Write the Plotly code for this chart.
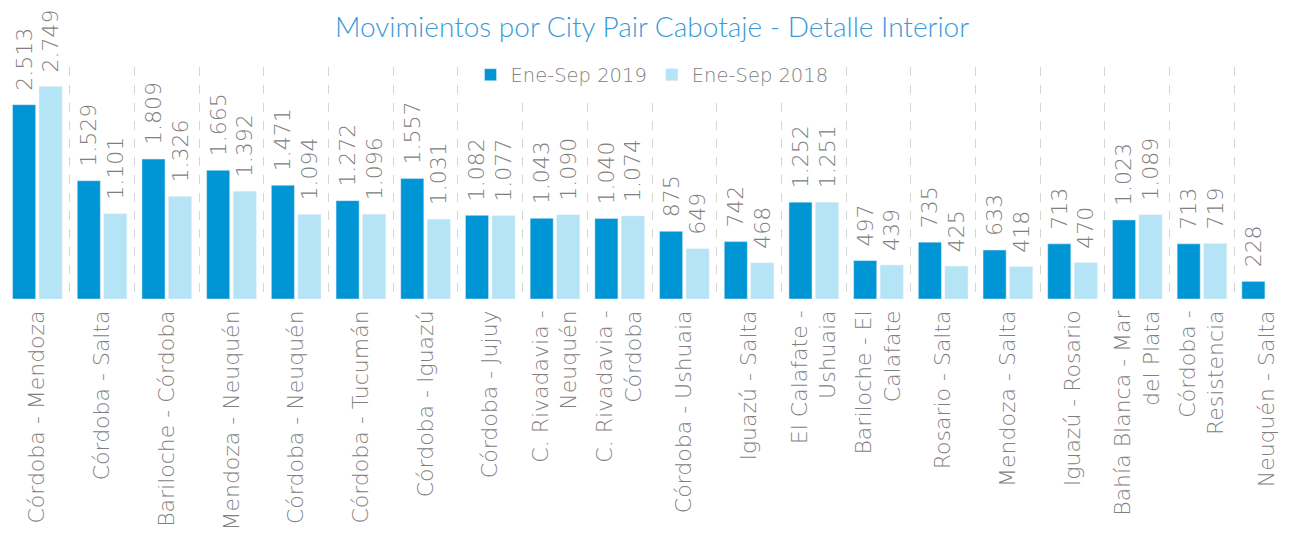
import plotly.graph_objects as go

categories = [
    "Córdoba - Mendoza", "Córdoba - Salta", "Bariloche - Córdoba", "Mendoza - Neuquén",
    "Córdoba - Neuquén", "Córdoba - Tucumán", "Córdoba - Iguazú", "Córdoba - Jujuy",
    "C. Rivadavia -<br>Neuquén", "C. Rivadavia -<br>Córdoba", "Córdoba - Ushuaia",
    "Iguazú - Salta", "El Calafate -<br>Ushuaia", "Bariloche - El<br>Calafate",
    "Rosario - Salta", "Mendoza - Salta", "Iguazú - Rosario",
    "Bahía Blanca - Mar<br>del Plata", "Córdoba -<br>Resistencia", "Neuquén - Salta",
]
values_2019 = [2513, 1529, 1809, 1665, 1471, 1272, 1557, 1082, 1043, 1040,
               875, 742, 1252, 497, 735, 633, 713, 1023, 713, 228]
values_2018 = [2749, 1101, 1326, 1392, 1094, 1096, 1031, 1077, 1090, 1074,
               649, 468, 1251, 439, 425, 418, 470, 1089, 719, None]

FONT = "DejaVu Sans"
GRAY = "#808080"

fig = go.Figure()
for name, vals, color in [("Ene-Sep 2019", values_2019, "#0095D5"),
                          ("Ene-Sep 2018", values_2018, "#B5E4F6")]:
    fig.add_trace(go.Bar(
        x=categories, y=vals, name=name, marker_color=color,
        texttemplate="\u2002%{y:,}", textposition="outside", textangle=-90,
        textfont=dict(family=FONT, size=22, color=GRAY, weight=200),
        cliponaxis=False, constraintext="none", hoverinfo="skip",
    ))

fig.update_layout(
    width=1299, height=546,
    margin=dict(l=5, r=0, t=67, b=247),
    paper_bgcolor="white", plot_bgcolor="white",
    separators=",.",
    barmode="group", bargap=0.18, bargroupgap=0.13,
    title=dict(text="Movimientos por City Pair Cabotaje - Detalle Interior",
               x=0.502, xanchor="center", y=0.9505, yanchor="middle",
               font=dict(family="Lato", size=28, color="#3A9AD9", weight=300)),
    legend=dict(orientation="h", x=0.5, xanchor="center", y=0.9655, yanchor="middle",
                bgcolor="white", font=dict(family=FONT, size=19.5, color=GRAY, weight=200)),
    xaxis=dict(tickangle=-90, tickson="boundaries", showgrid=True,
               gridcolor="#d6d6d6", griddash="dash", gridwidth=1,
               showline=False, ticks="", zeroline=False, ticklabelstandoff=6,
               tickfont=dict(family=FONT, size=22, color=GRAY, weight=200)),
    yaxis=dict(visible=False, range=[0, 3000]),
)

fig.write_html("out.html", post_script="document.body.style.margin='0';",
               config={"displayModeBar": False})
